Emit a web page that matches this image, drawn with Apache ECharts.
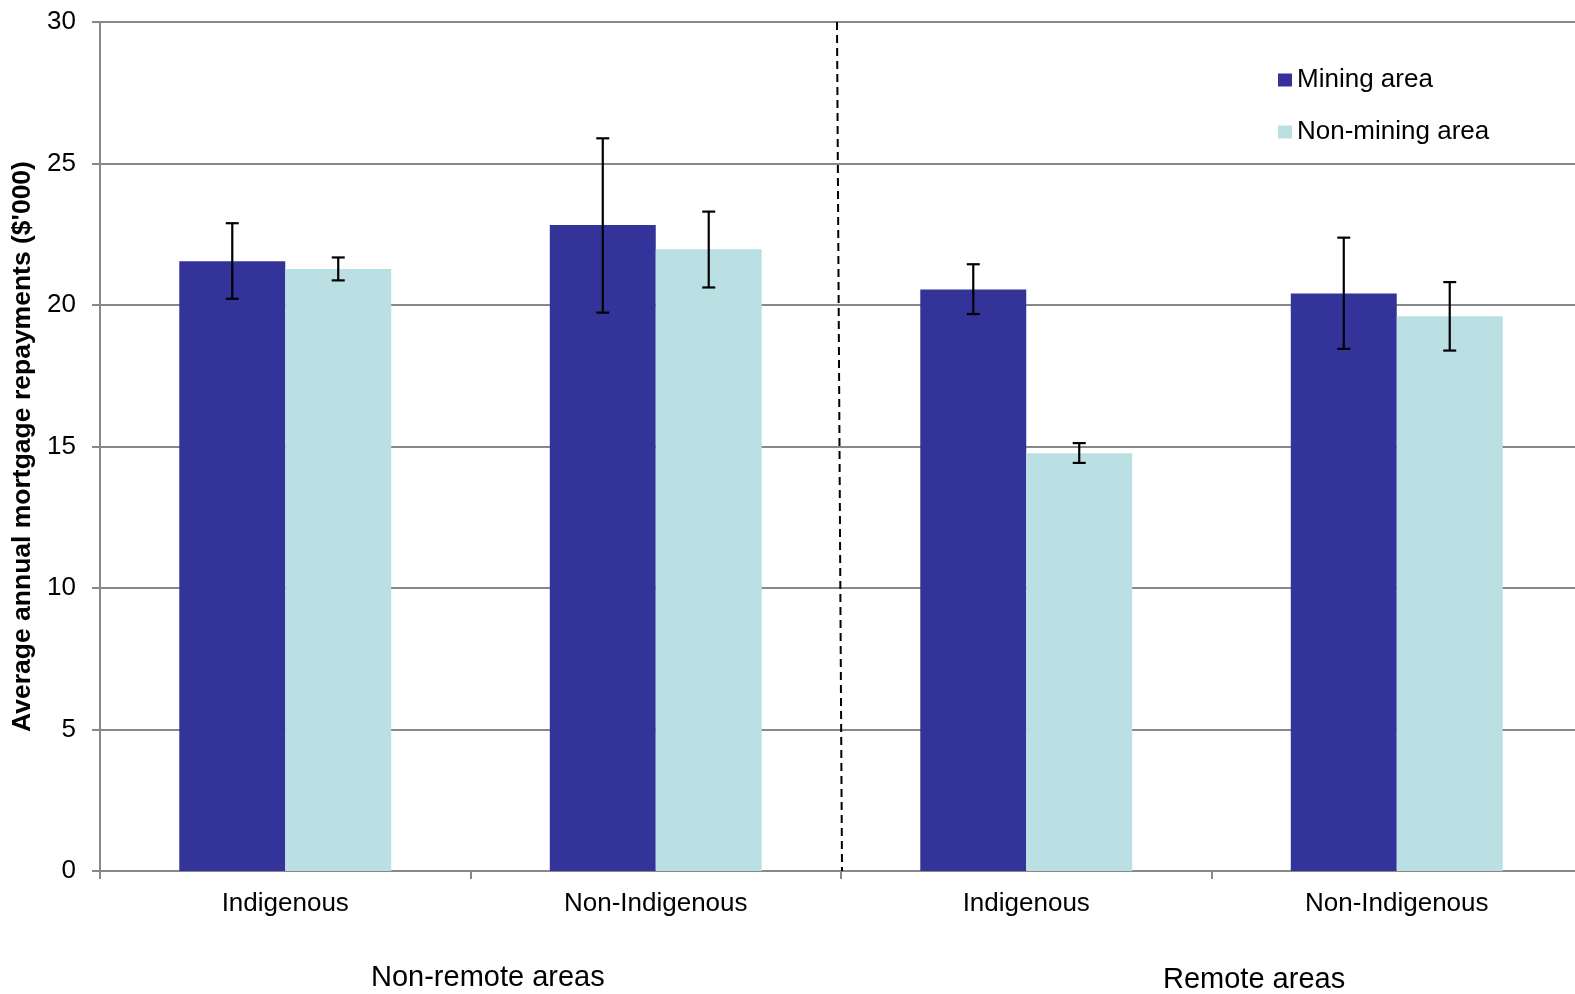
<!DOCTYPE html>
<html>
<head>
<meta charset="utf-8">
<script src="https://cdn.jsdelivr.net/npm/echarts@6/dist/echarts.min.js"></script>
<style>
html,body{margin:0;padding:0;background:#fff;}
#chart{width:1575px;height:994px;}
</style>
</head>
<body>
<div id="chart"></div>
<script>
// ---- data ----
const groups = ["Non-remote areas", "Non-remote areas", "Remote areas", "Remote areas"];
const categories = ["Indigenous", "Non-Indigenous", "Indigenous", "Non-Indigenous"];
const groupLabels = ["Non-remote areas", "Remote areas"];
const seriesNames = ["Mining area", "Non-mining area"];
const miningValues = [21.55, 22.83, 20.55, 20.41];
const miningLow = [20.22, 19.73, 19.68, 18.45];
const miningHigh = [22.89, 25.89, 21.44, 22.38];
const nonMiningValues = [21.27, 21.97, 14.76, 19.60];
const nonMiningLow = [20.87, 20.62, 14.42, 18.39];
const nonMiningHigh = [21.68, 23.30, 15.12, 20.81];
const yTicks = [0, 5, 10, 15, 20, 25, 30];

const colors = ["#333399", "#BAE0E3"];
const barFrac = 0.286;
const font = "'Liberation Sans', Arial, sans-serif";

const keys = categories.map((c, i) => groups[i] + "|" + c);

const errData = [];
for (let i = 0; i < categories.length; i++) {
  errData.push([i, miningLow[i], miningHigh[i], 0]);
  errData.push([i, nonMiningLow[i], nonMiningHigh[i], 1]);
}

function renderErr(params, api) {
  const idx = api.value(0);
  const lo = api.coord([idx, api.value(1)]);
  const hi = api.coord([idx, api.value(2)]);
  const band = api.size([1, 0])[0];
  const bw = band * barFrac;
  const off = api.value(3) === 0 ? -bw / 2 : bw / 2;
  const x = lo[0] + off;
  const cap = 6.5;
  const st = { stroke: "#000", lineWidth: 2.2 };
  return {
    type: "group",
    children: [
      { type: "line", shape: { x1: x, y1: hi[1], x2: x, y2: lo[1] }, style: st },
      { type: "line", shape: { x1: x - cap, y1: hi[1], x2: x + cap, y2: hi[1] }, style: st },
      { type: "line", shape: { x1: x - cap, y1: lo[1], x2: x + cap, y2: lo[1] }, style: st }
    ]
  };
}

function renderSep(params, api) {
  const a = api.coord([1, 30]);
  const b = api.coord([2, 0]);
  const xb = (a[0] + b[0]) / 2;
  return {
    type: "line",
    shape: { x1: xb - 4, y1: a[1], x2: xb + 1, y2: b[1] },
    style: { stroke: "#000", lineWidth: 2, lineDash: [8, 5] },
    z2: 10
  };
}

const chart = echarts.init(document.getElementById("chart"), null, { renderer: "canvas" });
chart.setOption({
  animation: false,
  backgroundColor: "#fff",
  textStyle: { fontFamily: font },
  grid: { left: 100, right: -7, top: 22, bottom: 123, containLabel: false, outerBoundsMode: "none" },
  legend: {
    orient: "vertical",
    left: 1273,
    top: 60,
    itemWidth: 14,
    itemHeight: 13,
    itemGap: 22,
    icon: "rect",
    data: seriesNames,
    textStyle: { fontSize: 26, color: "#000", fontFamily: font, lineHeight: 30, padding: [0, 0, 0, 0] }
  },
  xAxis: {
    type: "category",
    data: keys,
    axisLine: { lineStyle: { color: "#888", width: 2 } },
    axisTick: { show: true, length: 8, lineStyle: { color: "#888", width: 2 } },
    axisLabel: {
      margin: 20,
      fontSize: 26,
      color: "#000",
      fontFamily: font,
      formatter: v => v.split("|")[1]
    }
  },
  yAxis: {
    type: "value",
    min: 0,
    max: 30,
    interval: 5,
    name: "Average annual mortgage repayments ($'000)",
    nameLocation: "middle",
    nameGap: 61,
    nameTextStyle: { fontSize: 26.5, fontWeight: "bold", color: "#000", fontFamily: font },
    axisLine: { show: true, lineStyle: { color: "#888", width: 2 } },
    axisTick: { show: true, length: 8, lineStyle: { color: "#888", width: 2 } },
    axisLabel: {
      margin: 24,
      fontSize: 26,
      color: "#000",
      fontFamily: font,
      formatter: v => (yTicks.indexOf(v) >= 0 ? String(v) : "")
    },
    splitLine: { show: true, lineStyle: { color: "#888", width: 2 } }
  },
  series: [
    {
      name: seriesNames[0],
      type: "bar",
      data: miningValues,
      barWidth: (barFrac * 100) + "%",
      barGap: "0%",
      itemStyle: { color: colors[0] },
      z: 2
    },
    {
      name: seriesNames[1],
      type: "bar",
      data: nonMiningValues,
      barWidth: (barFrac * 100) + "%",
      barGap: "0%",
      itemStyle: { color: colors[1] },
      z: 2
    },
    {
      type: "custom",
      renderItem: renderErr,
      data: errData,
      encode: { x: 0, y: [1, 2] },
      z: 5,
      silent: true
    },
    {
      type: "custom",
      renderItem: renderSep,
      data: [[0]],
      z: 6,
      silent: true
    }
  ],
  graphic: [
    { type: "text", left: 371, top: 963, style: { text: groupLabels[0], fontSize: 29, fill: "#000", fontFamily: font } },
    { type: "text", left: 1163, top: 965, style: { text: groupLabels[1], fontSize: 29, fill: "#000", fontFamily: font } }
  ]
});
</script>
</body>
</html>
